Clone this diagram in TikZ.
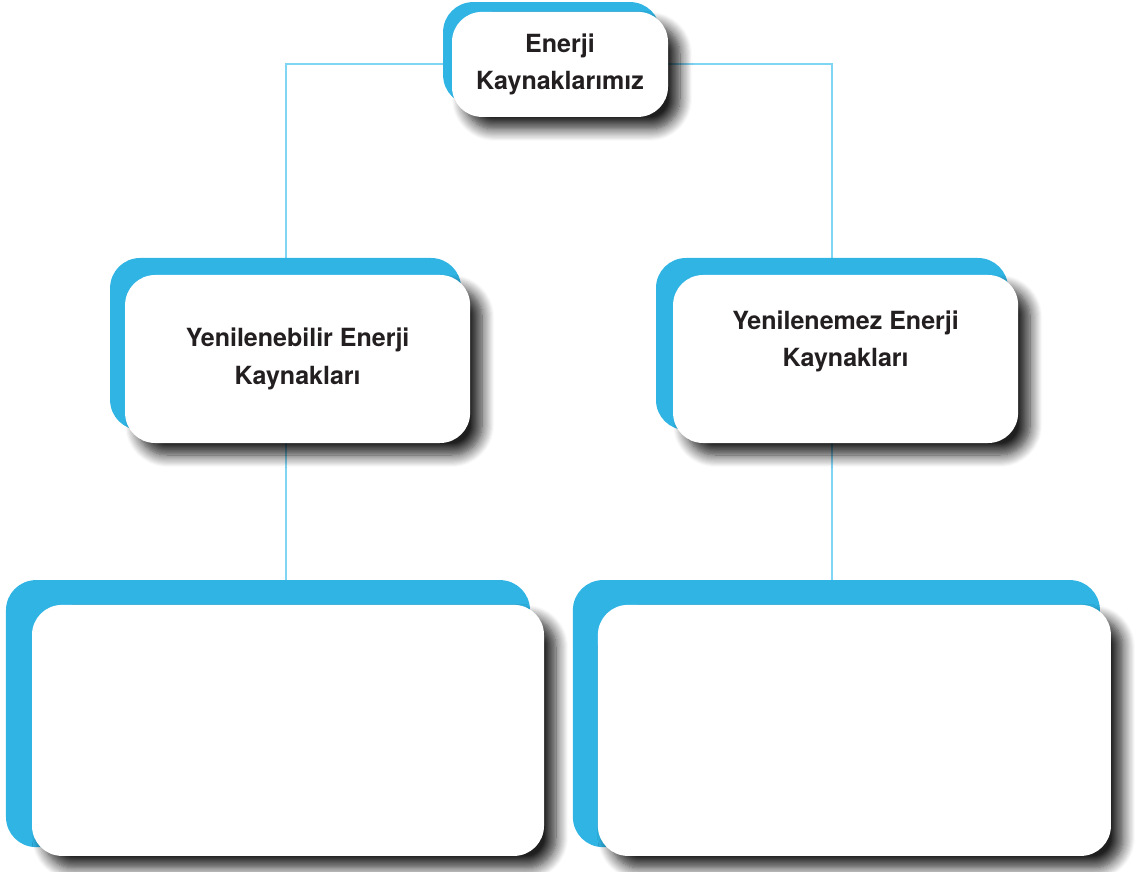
\documentclass[tikz,border=0pt]{standalone}
\usepackage{fontspec}
\setmainfont{TeX Gyre Heros}
\usepackage{tikz}
\usetikzlibrary{positioning,calc,backgrounds,shadows.blur}
\definecolor{cardblue}{RGB}{47,180,228}
\definecolor{linkblue}{RGB}{128,213,245}
\definecolor{inkdark}{RGB}{35,31,32}

\begin{document}
\begin{tikzpicture}[
    every node/.style={align=center,font=\bfseries\fontsize{17.8}{26.5}\selectfont,text=inkdark},
    backcard/.style={fill=cardblue,rounded corners=0.75cm,inner sep=0pt},
    card/.style={fill=white,rounded corners=0.75cm,inner sep=0pt,
      blur shadow={shadow xshift=0.3cm,shadow yshift=-0.3cm,shadow blur radius=0.3cm,
        shadow blur steps=12,shadow opacity=88}},
    link/.style={linkblue,line width=1.3pt}]
  \useasboundingbox (0,0) rectangle (28.425,-21.8);
  % top
  \node[backcard,minimum width=5.425cm,minimum height=2.575cm] (topback) at (13.79,-1.34) {};
  \node[card,minimum width=5.4cm,minimum height=2.625cm] (top) at (14,-1.61) {Enerji\\Kaynaklarımız};
  % middle row
  \node[backcard,minimum width=8.775cm,minimum height=4.3cm] (lback) at (7.14,-8.6) {};
  \node[card,minimum width=8.625cm,minimum height=4.2cm] (lcard) at (7.44,-8.975) {Yenilenebilir Enerji\\Kaynakları};
  \node[backcard,minimum width=8.8cm,minimum height=4.3cm] (rback) at (20.8,-8.6) {};
  \node[card,minimum width=8.625cm,minimum height=4.2cm] (rcard) at (21.14,-8.975) {Yenilenemez Enerji\\Kaynakları\\[0.1cm]};
  % bottom row
  \node[backcard,minimum width=13.1cm,minimum height=6.675cm] (lbback) at (6.7,-17.84) {};
  \node[card,minimum width=12.8cm,minimum height=6.275cm] (lbcard) at (7.2,-18.26) {};
  \node[backcard,minimum width=13.175cm,minimum height=6.675cm] (rbback) at (20.91,-17.84) {};
  \node[card,minimum width=12.825cm,minimum height=6.275cm] (rbcard) at (21.36,-18.26) {};
  % links
  \begin{pgfonlayer}{background}
    \draw[link] (top.west) -| (lback.north);
    \draw[link] (top.east) -| (rback.north);
    \draw[link] (lback.south) -- (lback.south |- lbback.north);
    \draw[link] (rback.south) -- (rback.south |- rbback.north);
  \end{pgfonlayer}
\end{tikzpicture}
\end{document}
